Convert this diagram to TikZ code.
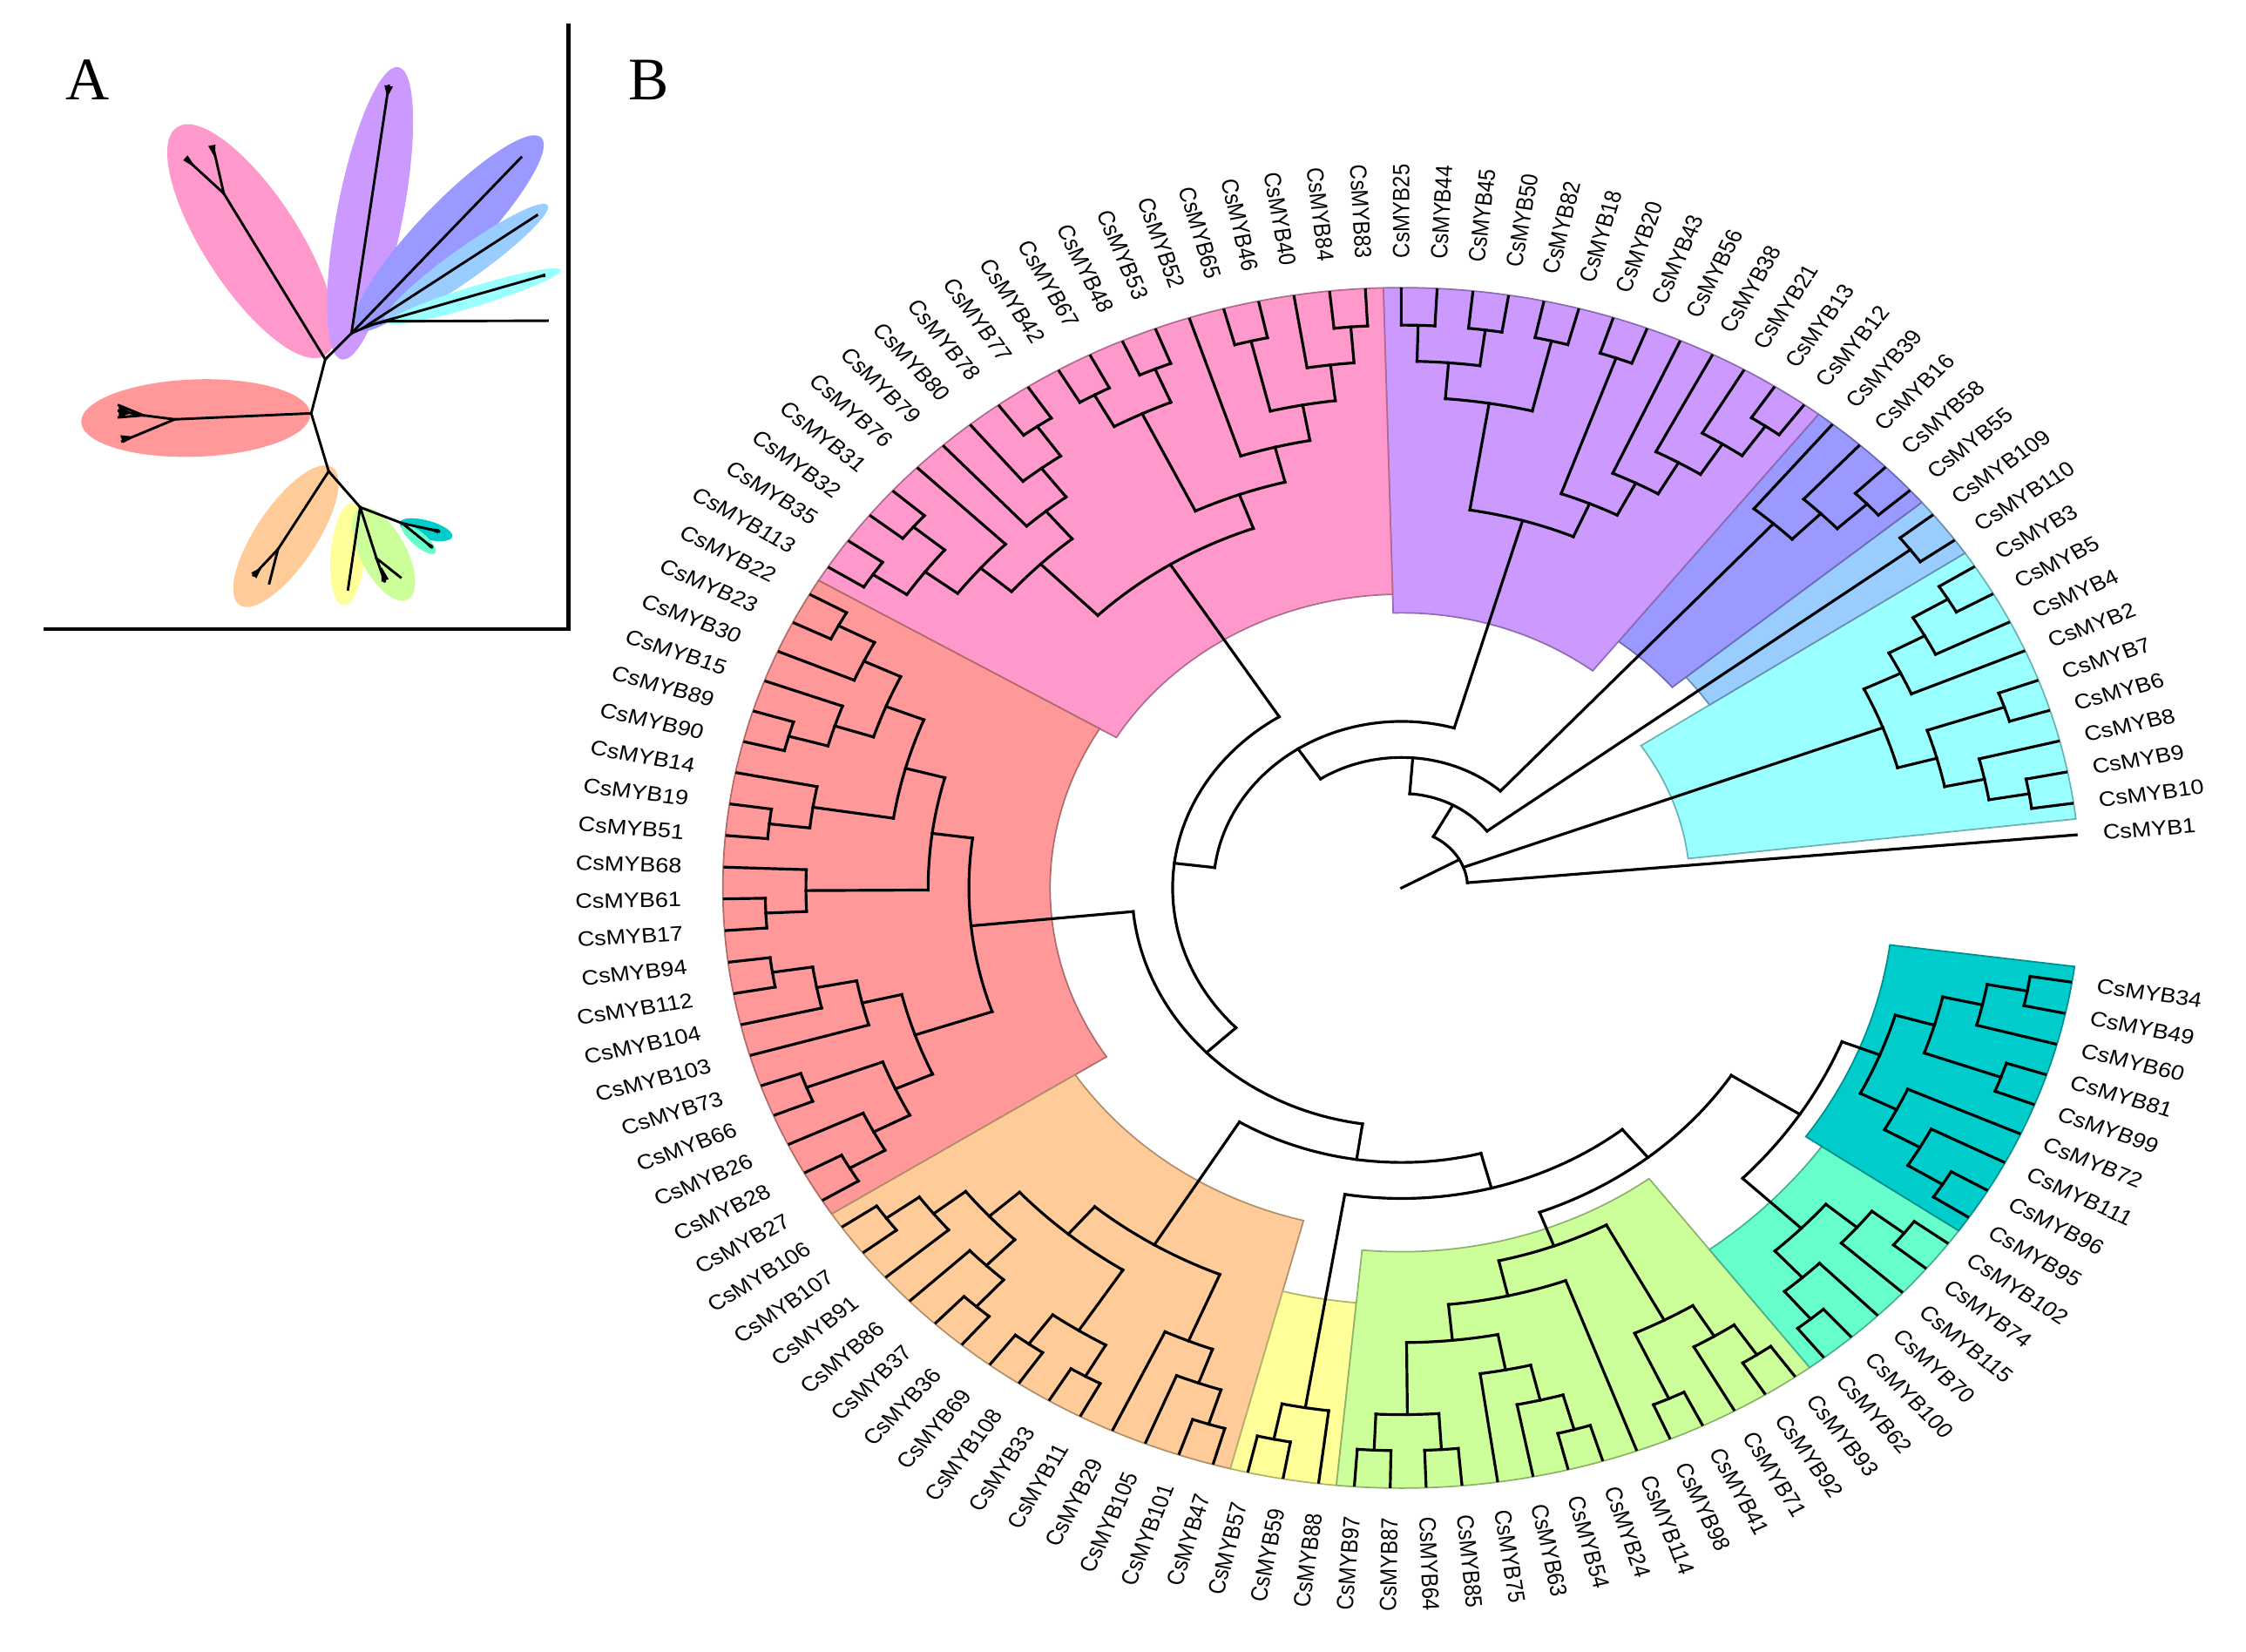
\documentclass[tikz,border=0pt]{standalone}
\usepackage{fontspec}
\setmainfont{Liberation Serif}
\setsansfont{Liberation Sans}
\usepackage{tikz}
\definecolor{cpink}{RGB}{255,153,204}
\definecolor{cpurple}{RGB}{204,153,255}
\definecolor{cblue}{RGB}{153,153,255}
\definecolor{clblue}{RGB}{153,204,255}
\definecolor{ccyan}{RGB}{153,255,255}
\definecolor{cred}{RGB}{255,153,153}
\definecolor{corange}{RGB}{255,204,153}
\definecolor{cyellow}{RGB}{255,255,153}
\definecolor{cgreen}{RGB}{204,255,153}
\definecolor{cmint}{RGB}{102,255,204}
\definecolor{cteal}{RGB}{0,204,204}

\newcommand\angA{5.08}
\newcommand\angS{3.034}
\newcommand\tipR{4.18}
\newcommand\stepR{0.2515}
\newcommand\outR{4.19}
\newcommand\setval[3]{\expandafter\xdef\csname #1@#2\endcsname{#3}}
\newcommand\getval[2]{\csname #1@#2\endcsname}

\newcommand\colrange[4]{%
  \pgfmathsetmacro\rgA{\angA+\angS*(#2-0.5)}%
  \pgfmathsetmacro\rgB{\angA+\angS*(#3+0.5)}%
  \filldraw[rangefill,fill=#1,draw=#1!70!black] (\rgA:#4) arc[start angle=\rgA,end angle=\rgB,radius=#4]
    -- (\rgB:\outR) arc[start angle=\rgB,end angle=\rgA,radius=\outR] -- cycle;}

\newcommand\clade[2]{%
  \gdef\clH{0}\gdef\clS{0}\gdef\clN{0}\gdef\clLo{999}\gdef\clHi{-999}%
  \foreach \kid in {#2}{%
    \edef\kA{\getval{a}{\kid}}\edef\kH{\getval{h}{\kid}}%
    \pgfmathsetmacro\kT{max(\clH,\kH)}\xdef\clH{\kT}%
    \pgfmathsetmacro\kT{\clS+\kA}\xdef\clS{\kT}%
    \pgfmathsetmacro\kT{\clN+1}\xdef\clN{\kT}%
    \pgfmathsetmacro\kT{min(\clLo,\kA)}\xdef\clLo{\kT}%
    \pgfmathsetmacro\kT{max(\clHi,\kA)}\xdef\clHi{\kT}%
  }%
  \pgfmathsetmacro\clH{\clH+1}%
  \pgfmathsetmacro\clA{\clS/\clN}%
  \pgfmathsetmacro\clR{\tipR-\stepR*\clH}%
  \setval{a}{#1}{\clA}\setval{h}{#1}{\clH}%
  \coordinate (#1) at (\clA:\clR);%
  \foreach \kid in {#2}{\edef\kA{\getval{a}{\kid}}\draw[treeline] (\kid) -- (\kA:\clR);}%
  \draw[treeline] (\clLo:\clR) arc[start angle=\clLo,end angle=\clHi,radius=\clR];%
}

\begin{document}
\begin{tikzpicture}[line cap=rect,
  treeline/.style={line width=0.55pt},
  minitree/.style={line width=0.5pt},
  rangefill/.style={line width=0.3pt},
  frameline/.style={line width=0.8pt},
  leaflabel/.style={font=\sffamily\fontsize{4.13}{5}\selectfont,inner sep=0pt},
  panel/.style={font=\fontsize{12}{14}\selectfont,inner sep=0pt}]
  \useasboundingbox (0,0) rectangle (15.68,-11.53);

  \begin{scope}[x=0.01cm,y=-0.01cm]
    \fill[cpink,rotate around={-57:(175.5,168.5)}] (175.5,168.5) ellipse[x radius=95,y radius=33];
    \fill[cpurple,rotate around={79:(258.5,149)}] (258.5,149) ellipse[x radius=104,y radius=23];
    \fill[cblue,rotate around={46:(313.5,163)}] (313.5,163) ellipse[x radius=93,y radius=21];
    \fill[clblue,rotate around={35.5:(325.5,184)}] (325.5,184) ellipse[x radius=70,y radius=11];
    \fill[ccyan,rotate around={17:(331.5,207)}] (331.5,207) ellipse[x radius=63,y radius=7];
    \fill[cred,rotate around={2:(136.7,292)}] (136.7,292) ellipse[x radius=80,y radius=27];
    \fill[corange,rotate around={56:(199.7,374.5)}] (199.7,374.5) ellipse[x radius=58,y radius=21];
    \fill[cyellow,rotate around={85:(243,387)}] (243,387) ellipse[x radius=36,y radius=12];
    \fill[cgreen,rotate around={-62:(268,387)}] (268,387) ellipse[x radius=36,y radius=16];
    \fill[cteal,rotate around={-15:(297.6,370)}] (297.6,370) ellipse[x radius=19,y radius=6.5];
    \fill[cmint,rotate around={-40:(292.6,376.6)}] (292.6,376.6) ellipse[x radius=15,y radius=5];

    \coordinate (ha) at (245.5,232.8);
    \coordinate (hb) at (253,229.5);
    \coordinate (hc) at (262.5,226);
    \coordinate (hd) at (270,224.4);
    \coordinate (jpi) at (227.2,251);
    \coordinate (jre) at (217.4,288.7);
    \coordinate (jor) at (229.6,329.2);
    \coordinate (jgr) at (251.6,354.3);
    \coordinate (fpi) at (156.3,135.1);
    \coordinate (fre) at (122.1,292.9);
    \coordinate (fre2) at (100.1,290.1);
    \coordinate (kor) at (194.2,383.6);
    \coordinate (fgr) at (263,390);
    \coordinate (ftm) at (281,365.5);
    \coordinate (tpu) at (271.5,60);
    \coordinate (tdb) at (364,110);
    \coordinate (tlb) at (375,150.4);
    \coordinate (tcy) at (380,192.3);
    \coordinate (tb1) at (382.4,224);
    \coordinate (tpi1) at (131.9,112.7);
    \coordinate (tpi2) at (149,103);
    \coordinate (tre1) at (83,287);
    \coordinate (tre2) at (85.4,308.2);
    \coordinate (tor1) at (177.1,401.8);
    \coordinate (tor2) at (188.1,407.4);
    \coordinate (tye) at (243.1,411.6);
    \coordinate (tgr1) at (268.7,406);
    \coordinate (tgr2) at (279.7,403.2);
    \coordinate (tte) at (306.6,371.1);
    \coordinate (tmi) at (301.7,382.2);

    \draw[minitree] (hd) -- (hc) -- (hb) -- (ha) -- (jpi) -- (jre) -- (jor) -- (jgr);
    \draw[minitree] (ha) -- (tpu);
    \draw[minitree] (ha) -- (tdb);
    \draw[minitree] (hb) -- (tlb);
    \draw[minitree] (hc) -- (tcy);
    \draw[minitree] (hd) -- (tb1);
    \draw[minitree] (jpi) -- (fpi) -- (tpi1);
    \draw[minitree] (fpi) -- (tpi2);
    \draw[minitree] (jre) -- (fre) -- (fre2) -- (tre1);
    \draw[minitree] (fre2) -- (83,283.1);
    \draw[minitree] (fre2) -- (83,291.5);
    \draw[minitree] (fre) -- (tre2);
    \draw[minitree] (jor) -- (kor) -- (tor1);
    \draw[minitree] (kor) -- (tor2);
    \draw[minitree] (jgr) -- (tye);
    \draw[minitree] (jgr) -- (fgr) -- (tgr1);
    \draw[minitree] (fgr) -- (tgr2);
    \draw[minitree] (jgr) -- (ftm) -- (tte);
    \draw[minitree] (ftm) -- (tmi);
    \fill (270.5,68) -- (268.5,59.5) -- (274.5,60.5) -- cycle;
    \fill (137,117.5) -- (128,112) -- (131,108.5) -- cycle;
    \fill (150,110) -- (145.5,102) -- (150.5,101) -- cycle;
    \fill (92,288.5) -- (83,283.1) -- (83,291.5) -- cycle;
    \fill (94,305) -- (84,304) -- (86,309.5) -- cycle;
    \fill (183,396) -- (175.5,400) -- (179,404) -- cycle;
    \fill (266.5,396) -- (266.5,406.5) -- (271.5,404.5) -- cycle;
    \fill (297,369) -- (306.5,369.5) -- (306,372.5) -- cycle;
    \fill (294.5,376.5) -- (302.5,381) -- (300.5,383) -- cycle;
    \fill (372,194) -- (380.5,191) -- (381,193.5) -- cycle;

    \draw[frameline] (32,439.5) -- (397,439.5) -- (397,18);
    \node[panel] (pa) at (61,56) {A};
    \node[panel] (pb) at (453,56) {B};
  \end{scope}

  \begin{scope}[shift={(9.785,-6.198)},xscale=1.131,transform shape]
    \colrange{ccyan}{1}{9}{1.78}
    \colrange{clblue}{10}{11}{2.29}
    \colrange{cblue}{12}{15}{2.18}
    \colrange{cpurple}{16}{28}{1.92}
    \colrange{cpink}{29}{47}{2.05}
    \colrange{cred}{48}{68}{2.17}
    \colrange{corange}{69}{82}{2.40}
    \colrange{cyellow}{83}{85}{2.91}
    \colrange{cgreen}{86}{99}{2.54}
    \colrange{cmint}{100}{105}{3.16}
    \colrange{cteal}{106}{114}{3.04}

    \foreach \n [count=\i from 0] in {1,10,9,8,6,7,2,4,5,3,110,109,55,58,16,39,12,13,21,38,
      56,43,20,18,82,50,45,44,25,83,84,40,46,65,52,53,48,67,42,77,78,80,79,76,31,32,35,113,22,23,
      30,15,89,90,14,19,51,68,61,17,94,112,104,103,73,66,26,28,27,106,107,91,86,37,36,69,108,33,11,29,
      105,101,47,57,59,88,97,87,64,85,75,63,54,24,114,98,41,71,92,93,62,100,70,115,74,102,95,96,111,72,
      99,81,60,49,34}{
      \pgfmathsetmacro\tang{\angA+\angS*\i}
      \pgfmathsetmacro\labr{4.39-0.05*cos(\tang)}
      \setval{a}{B\n}{\tang}\setval{h}{B\n}{0}
      \coordinate (B\n) at (\tang:\tipR);
      \pgfmathtruncatemacro\flip{(\tang>91)&&(\tang<270)}
      \ifnum\flip=1
        \node[leaflabel,anchor=east,rotate=\tang-180] (lab\n) at (\tang:\labr) {CsMYB\n};
      \else
        \node[leaflabel,anchor=west,rotate=\tang] (lab\n) at (\tang:\labr) {CsMYB\n};
      \fi
    }

    \clade{cy1}{B5,B3}
    \clade{cy2}{B4,cy1}
    \clade{cy3}{B2,cy2}
    \clade{cy4}{B6,B7}
    \clade{cy5}{B10,B9}
    \clade{cy6}{cy5,B8}
    \clade{cy7}{cy6,cy4}
    \clade{cyR}{cy7,cy3}

    \clade{lbR}{B110,B109}

    \clade{db1}{B55,B58}
    \clade{db2}{db1,B16}
    \clade{dbR}{db2,B39}

    \clade{pu1}{B12,B13}
    \clade{pu2}{pu1,B21}
    \clade{pu3}{pu2,B38}
    \clade{pu4}{pu3,B56}
    \clade{pu5}{B43,B20}
    \clade{pu6}{pu4,pu5}
    \clade{pu7}{B18,B82}
    \clade{pu8}{B50,B45}
    \clade{pu9}{B44,B25}
    \clade{pu10}{pu8,pu9}
    \clade{pu11}{pu7,pu10}
    \clade{puR}{pu6,pu11}

    \clade{pi1}{B83,B84}
    \clade{pi2}{pi1,B40}
    \clade{pi3}{B46,B65}
    \clade{pi4}{pi2,pi3}
    \clade{pi5}{pi4,B52}
    \clade{pi6}{B53,B48}
    \clade{pi7}{B67,B42}
    \clade{pi8}{pi6,pi7}
    \clade{pi9}{pi5,pi8}
    \clade{pi10}{B77,B78}
    \clade{pi11}{pi10,B80}
    \clade{pi12}{pi11,B79}
    \clade{pi13}{B31,B32}
    \clade{pi14}{B35,B113}
    \clade{pi15}{pi13,pi14}
    \clade{pi16}{B76,pi15}
    \clade{pi17}{pi12,pi16}
    \clade{piR}{pi9,pi17}

    \clade{re1}{B22,B23}
    \clade{re2}{re1,B30}
    \clade{re3}{B89,B90}
    \clade{re4}{B15,re3}
    \clade{re5}{re2,re4}
    \clade{re6}{B19,B51}
    \clade{re7}{B14,re6}
    \clade{re8}{re5,re7}
    \clade{re9}{B61,B17}
    \clade{re10}{B68,re9}
    \clade{re11}{re8,re10}
    \clade{re12}{B94,B112}
    \clade{re13}{re12,B104}
    \clade{re14}{re13,B103}
    \clade{re15}{B73,B66}
    \clade{re16}{B28,B27}
    \clade{re17}{B26,re16}
    \clade{re18}{re15,re17}
    \clade{re19}{re14,re18}
    \clade{reR}{re11,re19}

    \clade{or1}{B106,B107}
    \clade{or2}{or1,B91}
    \clade{or3}{B37,B36}
    \clade{or4}{B86,or3}
    \clade{or5}{or2,or4}
    \clade{or6}{B69,B108}
    \clade{or7}{B33,B11}
    \clade{or8}{or6,or7}
    \clade{or9}{or5,or8}
    \clade{or10}{B101,B47}
    \clade{or11}{B105,or10}
    \clade{or12}{B29,or11}
    \clade{orR}{or9,or12}

    \clade{ye1}{B57,B59}
    \clade{yeR}{ye1,B88}

    \clade{gr1}{B97,B87}
    \clade{gr2}{B64,B85}
    \clade{gr3}{gr1,gr2}
    \clade{gr4}{B54,B24}
    \clade{gr5}{B63,gr4}
    \clade{gr6}{B75,gr5}
    \clade{gr7}{gr3,gr6}
    \clade{gr8}{gr7,B114}
    \clade{gr9}{B98,B41}
    \clade{gr10}{B92,B93}
    \clade{gr11}{B71,gr10}
    \clade{gr12}{gr9,gr11}
    \clade{grR}{gr8,gr12}

    \clade{mi1}{B62,B100}
    \clade{mi2}{mi1,B70}
    \clade{mi3}{B74,B102}
    \clade{mi4}{B115,mi3}
    \clade{miR}{mi2,mi4}

    \clade{te1}{B95,B96}
    \clade{te2}{te1,B111}
    \clade{te3}{te2,B72}
    \clade{te4}{B99,B81}
    \clade{te5}{B49,B34}
    \clade{te6}{B60,te5}
    \clade{te7}{te4,te6}
    \clade{teR}{te3,te7}

    \clade{n5}{miR,teR}
    \clade{n7}{grR,n5}
    \clade{n8}{yeR,n7}
    \clade{n9}{orR,n8}
    \clade{n10}{reR,n9}
    \clade{n11}{piR,n10}
    \clade{n12}{n11,puR}
    \clade{n13}{n12,dbR}
    \clade{n14}{n13,lbR}
    \clade{root}{B1,cyR,n14}
    \coordinate (ctr) at (0,0);
    \draw[treeline] (ctr) -- (root);
  \end{scope}
\end{tikzpicture}
\end{document}
